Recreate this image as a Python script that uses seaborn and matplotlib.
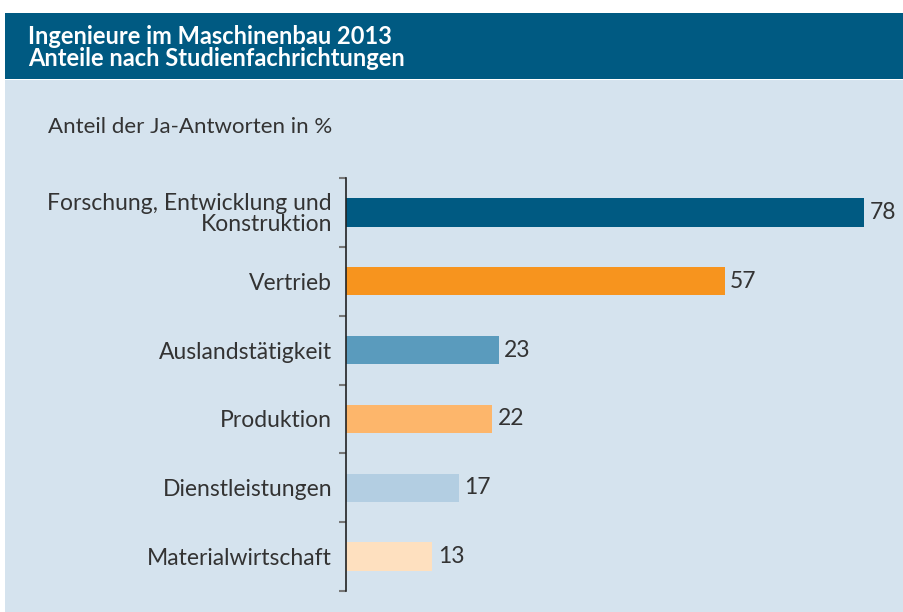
import matplotlib
matplotlib.use("Agg")
import matplotlib.pyplot as plt
from matplotlib.patches import Rectangle
import seaborn as sns
import pandas as pd

# data
categories = ["Forschung, Entwicklung und\nKonstruktion", "Vertrieb", "Auslandstätigkeit",
              "Produktion", "Dienstleistungen", "Materialwirtschaft"]
values = [78, 57, 23, 22, 17, 13]
bar_colors = ["#005A82", "#F7941E", "#5A9BBD", "#FDB66B", "#B3CEE2", "#FEE0BF"]
title_lines = ["Ingenieure im Maschinenbau 2013", "Anteile nach Studienfachrichtungen"]
axis_note = "Anteil der Ja-Antworten in %"

sns.set_theme(style="white")
plt.rcParams["font.family"] = ["Lato", "DejaVu Sans"]

df = pd.DataFrame({"cat": categories, "val": values})

bg = "#D5E3EE"
fig = plt.figure(figsize=(9.04, 6.12), dpi=100)
fig.patch.set_facecolor("white")
# light panel and dark header band
fig.patches.append(Rectangle((5 / 904, 0), 1, 1 - 80 / 612, transform=fig.transFigure,
                             facecolor=bg, edgecolor="none", zorder=-2))
fig.patches.append(Rectangle((5 / 904, 1 - 79 / 612), 1, 66 / 612, transform=fig.transFigure,
                             facecolor="#005A82", edgecolor="none", zorder=-2))
fig.text(28 / 904, 1 - 36 / 612, title_lines[0], color="white", fontsize=17,
         fontweight="bold", va="center", ha="left")
fig.text(28 / 904, 1 - 59 / 612, title_lines[1], color="white", fontsize=17,
         fontweight="bold", va="center", ha="left")
fig.text(48 / 904, 1 - 127 / 612, axis_note, color="#333333", fontsize=16,
         va="center", ha="left")

ax = fig.add_axes([346 / 904, 1 - 591 / 612, 558 / 904, 413 / 612])
ax.set_facecolor(bg)
ax.patch.set_alpha(0)

sns.barplot(data=df, x="val", y="cat", hue="cat", palette=bar_colors, legend=False,
            orient="h", width=0.41, saturation=1, linewidth=0, ax=ax)

for cont in ax.containers:
    ax.bar_label(cont, padding=4, fontsize=16.5, color="#333333")

ax.set_xlim(0, 84)
ax.set_ylim(len(categories) - 0.5, -0.5)
ax.set_xlabel("")
ax.set_ylabel("")
ax.set_xticks([])
for s in ["top", "right", "bottom"]:
    ax.spines[s].set_visible(False)
ax.spines["left"].set_color("#222222")
ax.spines["left"].set_linewidth(1.2)

ax.set_yticks(range(len(categories)))
ax.set_yticklabels(categories, fontsize=16.5, color="#333333", ha="right", linespacing=1.0)
ax.tick_params(axis="y", which="major", length=0, pad=10)
ax.set_yticks([i - 0.5 for i in range(len(categories) + 1)], minor=True)
ax.tick_params(axis="y", which="minor", left=True, length=5, width=1.5, color="#777777")

fig.savefig("out.png", dpi=100, facecolor=fig.get_facecolor())
